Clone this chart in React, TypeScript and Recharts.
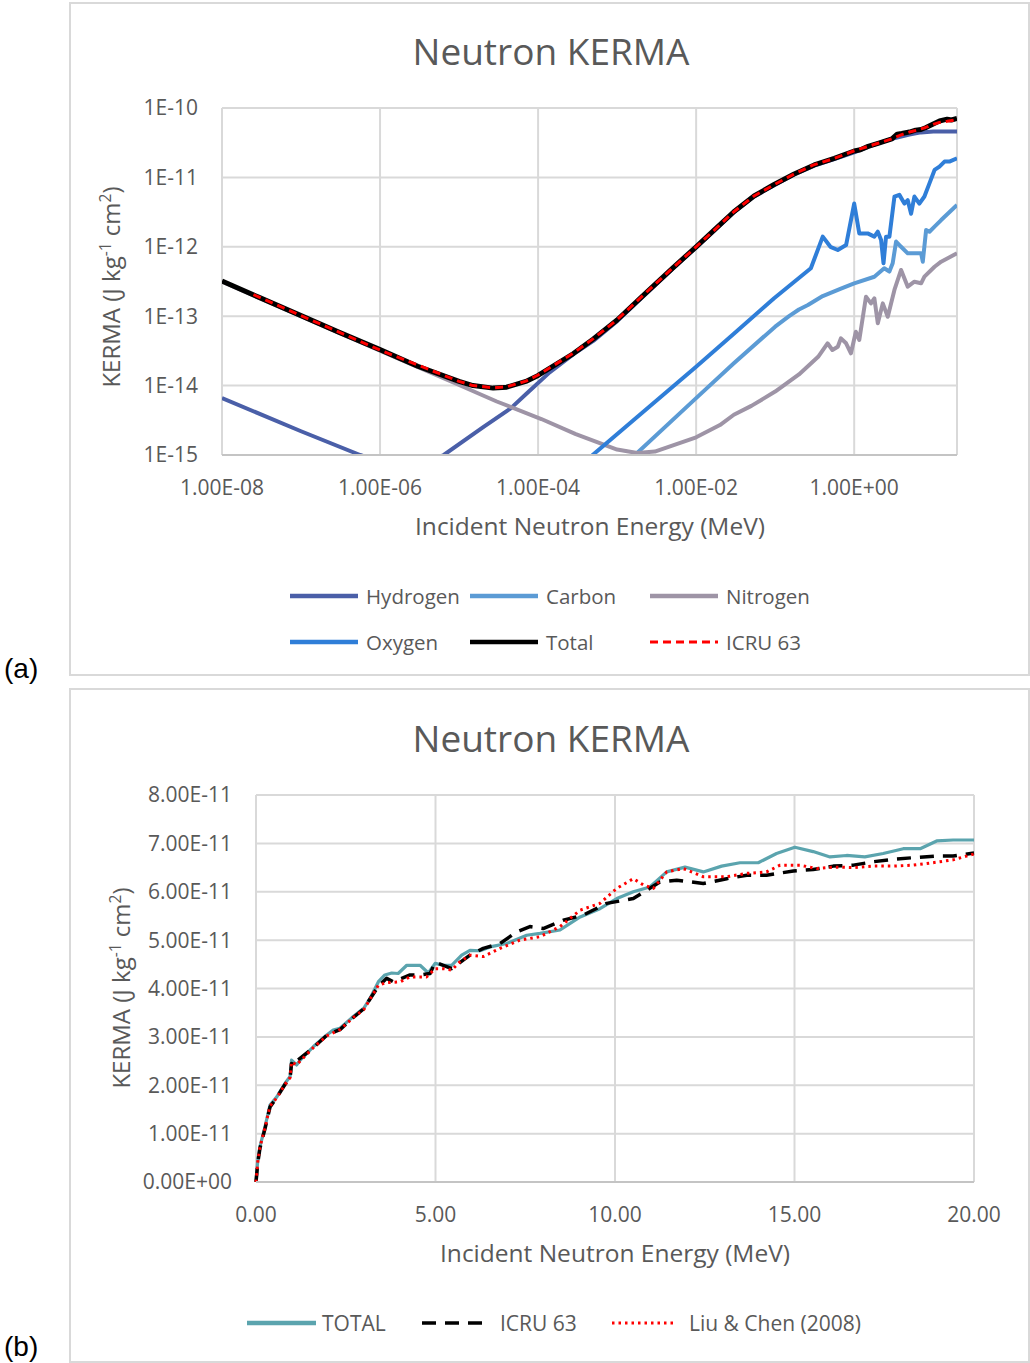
import React from 'react';
import { LineChart, Line, XAxis, YAxis, CartesianGrid } from 'recharts';

const FONT = '"Open Sans", "Noto Sans", sans-serif';
const TEXT = '#595959';
const GRID = '#d9d9d9';

// ---------- Chart (a): log-log ----------
const chartTitle = 'Neutron KERMA';
const xAxisTitle = 'Incident Neutron Energy (MeV)';
const xTicksA = [1e-8, 1e-6, 1e-4, 1e-2, 1];
const xTickLabelsA = ['1.00E-08', '1.00E-06', '1.00E-04', '1.00E-02', '1.00E+00'];
const yTicksA = [1e-15, 1e-14, 1e-13, 1e-12, 1e-11, 1e-10];
const yTickLabelsA = ['1E-15', '1E-14', '1E-13', '1E-12', '1E-11', '1E-10'];
const seriesNamesA = ['Hydrogen', 'Carbon', 'Nitrogen', 'Oxygen', 'Total', 'ICRU 63'];

const hydrogenE = [1e-8, 1e-7, 5.6e-7, 1e-6, 2.5e-6, 6.4e-6, 2e-5, 4.5e-5, 7e-5, 1.4e-4, 3e-4, 5e-4, 1e-3, 2e-3, 5e-3, 1e-2, 1.7e-2, 3e-2, 5.4e-2, 0.097, 0.174, 0.312, 0.56, 1, 1.5, 2, 3, 5, 7, 10, 20];
const hydrogenK = [6.6e-15, 2.2e-15, 1e-15, 8e-16, 6.5e-16, 1e-15, 2.5e-15, 4.7e-15, 7.5e-15, 1.55e-14, 3.0e-14, 4.4e-14, 8.5e-14, 1.8e-13, 4.8e-13, 9.8e-13, 1.72e-12, 3.15e-12, 5.3e-12, 7.7e-12, 1.1e-11, 1.48e-11, 1.84e-11, 2.3e-11, 2.75e-11, 3.1e-11, 3.6e-11, 4.15e-11, 4.45e-11, 4.6e-11, 4.6e-11];

const carbonE = [1.2e-3, 1e-2, 3e-2, 0.1, 0.15, 0.2, 0.26, 0.4, 0.68, 1, 1.8, 2.4, 2.79, 3.07, 3.39, 3.92, 4.76, 7.03, 7.38, 8.13, 8.96, 10.4, 12.6, 20];
const carbonK = [7e-16, 6.6e-15, 2.1e-14, 7.07e-14, 1.0e-13, 1.25e-13, 1.45e-13, 1.95e-13, 2.5e-13, 2.98e-13, 3.7e-13, 4.9e-13, 4.4e-13, 5.8e-13, 1.19e-12, 1.0e-12, 8.05e-13, 8.05e-13, 6.1e-13, 1.75e-12, 1.65e-12, 1.95e-12, 2.43e-12, 4.0e-12];

const nitrogenE = [1e-8, 1e-7, 1e-6, 1e-5, 3e-5, 1.1e-4, 3e-4, 1e-3, 1.8e-3, 3e-3, 1e-2, 2e-2, 3e-2, 5e-2, 0.1, 0.2, 0.35, 0.46, 0.53, 0.62, 0.68, 0.79, 0.91, 1.05, 1.16, 1.41, 1.63, 1.8, 1.99, 2.3, 2.66, 3.23, 3.92, 4.76, 5.78, 7.03, 7.74, 10.4, 12.6, 20];
const nitrogenK = [3.15e-13, 1.0e-13, 3.2e-14, 1.02e-14, 5.9e-15, 3.3e-15, 2.0e-15, 1.2e-15, 1.07e-15, 1.12e-15, 1.8e-15, 2.7e-15, 3.8e-15, 5.1e-15, 8.2e-15, 1.45e-14, 2.6e-14, 4.07e-14, 3.26e-14, 3.63e-14, 4.8e-14, 4.07e-14, 2.92e-14, 5.98e-14, 4.54e-14, 1.91e-13, 1.53e-13, 1.81e-13, 7.9e-14, 1.53e-13, 9.8e-14, 2.39e-13, 4.64e-13, 2.66e-13, 3.14e-13, 2.98e-13, 3.71e-13, 5.16e-13, 6.1e-13, 8.05e-13];

const oxygenE = [3.5e-4, 4.9e-4, 1e-2, 3e-2, 0.097, 0.283, 0.4, 0.5, 0.62, 0.79, 1.0, 1.16, 1.48, 1.8, 1.99, 2.19, 2.35, 2.53, 2.79, 3.23, 3.73, 4.32, 4.76, 5.25, 5.78, 6.68, 7.74, 8.96, 10.4, 12.0, 13.9, 16.0, 20];
const oxygenK = [7e-16, 1e-15, 1.87e-14, 5.6e-14, 1.81e-13, 4.9e-13, 1.4e-12, 1.0e-12, 9.0e-13, 1.06e-12, 4.2e-12, 1.56e-12, 1.56e-12, 1.4e-12, 1.65e-12, 1.25e-12, 5.8e-13, 1.4e-12, 1.4e-12, 5.27e-12, 5.6e-12, 4.2e-12, 4.7e-12, 3.0e-12, 5.3e-12, 4.2e-12, 5.3e-12, 8.2e-12, 1.28e-11, 1.43e-11, 1.69e-11, 1.69e-11, 1.88e-11];

const totalE = [1e-8, 3e-8, 1e-7, 3e-7, 1e-6, 3e-6, 1e-5, 1.5e-5, 2.7e-5, 4e-5, 7e-5, 1e-4, 2.8e-4, 5e-4, 1e-3, 2e-3, 5e-3, 1e-2, 1.7e-2, 3e-2, 5.4e-2, 0.097, 0.174, 0.312, 0.56, 1, 1.2, 1.5, 2, 3, 3.5, 4, 5, 6, 7, 8, 10, 12, 15, 17, 20];
const totalK = [3.2e-13, 1.85e-13, 1.02e-13, 5.9e-14, 3.3e-14, 1.9e-14, 1.15e-14, 1.0e-14, 9.2e-15, 9.5e-15, 1.15e-14, 1.4e-14, 2.9e-14, 4.7e-14, 8.8e-14, 1.85e-13, 4.9e-13, 1.0e-12, 1.75e-12, 3.2e-12, 5.4e-12, 7.9e-12, 1.12e-11, 1.51e-11, 1.88e-11, 2.4e-11, 2.5e-11, 2.8e-11, 3.1e-11, 3.6e-11, 4.2e-11, 4.3e-11, 4.5e-11, 4.8e-11, 4.9e-11, 5.2e-11, 5.9e-11, 6.5e-11, 6.9e-11, 6.72e-11, 7.07e-11];

const icruAE = [2.5e-8, 1e-7, 1e-6, 1e-5, 1.5e-5, 2.7e-5, 4e-5, 7e-5, 1e-4, 2.8e-4, 5e-4, 1e-3, 2e-3, 5e-3, 1e-2, 1.7e-2, 3e-2, 5.4e-2, 0.1, 0.174, 0.3, 0.56, 1, 2, 3, 4, 5, 6, 8, 10, 12, 15, 20];
const icruAK = [2.05e-13, 1.02e-13, 3.25e-14, 1.15e-14, 1.0e-14, 9.3e-15, 9.6e-15, 1.16e-14, 1.42e-14, 2.95e-14, 4.75e-14, 8.9e-14, 1.87e-13, 4.9e-13, 1.0e-12, 1.74e-12, 3.2e-12, 5.4e-12, 8.0e-12, 1.12e-11, 1.5e-11, 1.88e-11, 2.42e-11, 3.1e-11, 3.6e-11, 4.14e-11, 4.5e-11, 4.75e-11, 5.24e-11, 5.8e-11, 6.2e-11, 6.43e-11, 6.8e-11];

// ---------- Chart (b): linear ----------
const xTicksB = [0, 5, 10, 15, 20];
const xTickLabelsB = ['0.00', '5.00', '10.00', '15.00', '20.00'];
const yTicksB = [0, 1e-11, 2e-11, 3e-11, 4e-11, 5e-11, 6e-11, 7e-11, 8e-11];
const yTickLabelsB = ['0.00E+00', '1.00E-11', '2.00E-11', '3.00E-11', '4.00E-11', '5.00E-11', '6.00E-11', '7.00E-11', '8.00E-11'];
const seriesNamesB = ['TOTAL', 'ICRU 63', 'Liu & Chen (2008)'];

const totalBE = [0.0, 0.05, 0.11, 0.25, 0.39, 0.58, 0.81, 0.95, 0.99, 1.13, 1.23, 1.6, 1.97, 2.15, 2.34, 2.71, 3.0, 3.18, 3.41, 3.59, 3.78, 3.96, 4.2, 4.57, 4.8, 4.99, 5.22, 5.45, 5.73, 5.96, 6.24, 6.52, 6.98, 7.54, 7.91, 8.47, 9.03, 9.58, 10.05, 10.51, 10.97, 11.44, 11.95, 12.46, 12.97, 13.48, 13.99, 14.5, 15.01, 15.52, 15.99, 16.45, 16.96, 17.47, 18.03, 18.5, 18.96, 19.42, 20.0];
const totalBK = [0, 0.45e-11, 0.73e-11, 1.14e-11, 1.59e-11, 1.76e-11, 2.04e-11, 2.18e-11, 2.52e-11, 2.42e-11, 2.52e-11, 2.8e-11, 3.04e-11, 3.14e-11, 3.18e-11, 3.42e-11, 3.59e-11, 3.8e-11, 4.14e-11, 4.28e-11, 4.32e-11, 4.31e-11, 4.48e-11, 4.48e-11, 4.32e-11, 4.52e-11, 4.48e-11, 4.48e-11, 4.69e-11, 4.79e-11, 4.78e-11, 4.86e-11, 4.93e-11, 5.1e-11, 5.14e-11, 5.21e-11, 5.48e-11, 5.65e-11, 5.86e-11, 6.0e-11, 6.1e-11, 6.41e-11, 6.51e-11, 6.41e-11, 6.53e-11, 6.6e-11, 6.6e-11, 6.79e-11, 6.92e-11, 6.83e-11, 6.72e-11, 6.75e-11, 6.72e-11, 6.79e-11, 6.89e-11, 6.89e-11, 7.05e-11, 7.07e-11, 7.07e-11];

const icruBE = [0.0, 0.05, 0.11, 0.25, 0.39, 0.58, 0.81, 0.95, 0.99, 1.1, 1.13, 1.6, 2.0, 2.34, 2.71, 3.0, 3.41, 3.64, 3.82, 4.06, 4.29, 4.57, 4.85, 4.99, 5.22, 5.45, 5.78, 5.96, 6.33, 6.8, 7.26, 7.63, 8.0, 8.56, 9.12, 9.77, 10.51, 10.97, 11.25, 11.72, 12.46, 13.11, 13.67, 14.22, 14.97, 15.52, 16.08, 16.64, 17.19, 17.75, 18.4, 18.96, 19.42, 20.0];
const icruBK = [0, 0.4e-11, 0.7e-11, 1.1e-11, 1.55e-11, 1.75e-11, 2.02e-11, 2.15e-11, 2.45e-11, 2.4e-11, 2.5e-11, 2.78e-11, 3.05e-11, 3.15e-11, 3.4e-11, 3.58e-11, 4.05e-11, 4.21e-11, 4.14e-11, 4.21e-11, 4.28e-11, 4.28e-11, 4.31e-11, 4.54e-11, 4.48e-11, 4.41e-11, 4.59e-11, 4.69e-11, 4.83e-11, 4.93e-11, 5.17e-11, 5.28e-11, 5.24e-11, 5.41e-11, 5.52e-11, 5.76e-11, 5.86e-11, 6.07e-11, 6.2e-11, 6.24e-11, 6.17e-11, 6.27e-11, 6.34e-11, 6.34e-11, 6.43e-11, 6.46e-11, 6.53e-11, 6.55e-11, 6.62e-11, 6.67e-11, 6.71e-11, 6.74e-11, 6.74e-11, 6.8e-11];

const liuE = [0.0, 0.05, 0.11, 0.25, 0.39, 0.58, 0.81, 0.95, 0.99, 1.13, 1.23, 1.6, 1.97, 2.34, 2.71, 3.0, 3.41, 3.64, 4.02, 4.29, 4.75, 4.99, 5.22, 5.45, 5.68, 5.96, 6.33, 6.8, 7.35, 7.91, 8.47, 9.03, 9.58, 10.05, 10.51, 10.79, 11.07, 11.44, 11.9, 12.46, 13.11, 13.67, 14.22, 14.6, 15.15, 15.62, 16.08, 16.64, 17.19, 17.75, 18.31, 18.86, 19.42, 20.0];
const liuK = [0, 0.42e-11, 0.72e-11, 1.12e-11, 1.57e-11, 1.74e-11, 2.02e-11, 2.16e-11, 2.48e-11, 2.42e-11, 2.5e-11, 2.78e-11, 3.02e-11, 3.15e-11, 3.4e-11, 3.56e-11, 4.07e-11, 4.12e-11, 4.14e-11, 4.24e-11, 4.24e-11, 4.41e-11, 4.41e-11, 4.38e-11, 4.55e-11, 4.69e-11, 4.66e-11, 4.83e-11, 5.0e-11, 5.07e-11, 5.28e-11, 5.62e-11, 5.76e-11, 6.07e-11, 6.27e-11, 6.14e-11, 6.07e-11, 6.41e-11, 6.48e-11, 6.31e-11, 6.31e-11, 6.38e-11, 6.41e-11, 6.55e-11, 6.55e-11, 6.48e-11, 6.51e-11, 6.5e-11, 6.53e-11, 6.53e-11, 6.55e-11, 6.6e-11, 6.66e-11, 6.78e-11];

const pts = (e: number[], k: number[]) => e.map((x, i) => ({ e: x, k: k[i] }));

const dataA = [
  pts(hydrogenE, hydrogenK),
  pts(carbonE, carbonK),
  pts(nitrogenE, nitrogenK),
  pts(oxygenE, oxygenK),
  pts(totalE, totalK),
  pts(icruAE, icruAK),
];
const dataB = [pts(totalBE, totalBK), pts(icruBE, icruBK), pts(liuE, liuK)];

type SeriesStyle = { color: string; width: number; dash?: string };
const stylesA: SeriesStyle[] = [
  { color: '#4a5fa8', width: 4 },
  { color: '#5b9bd5', width: 4 },
  { color: '#9e94a6', width: 4 },
  { color: '#2f7ed8', width: 4 },
  { color: '#000000', width: 5 },
  { color: '#ff0000', width: 3, dash: '8 5' },
];
const stylesB: SeriesStyle[] = [
  { color: '#5ba4ae', width: 3.2 },
  { color: '#000000', width: 3.5, dash: '14 9' },
  { color: '#ff0000', width: 3, dash: '2.5 4' },
];

const labelOf = (ticks: number[], labels: string[]) => (v: number) => {
  const i = ticks.findIndex((t) => Math.abs(t - v) <= Math.abs(t) * 1e-6 + 1e-30);
  return i >= 0 ? labels[i] : '';
};

const tickStyle = { fill: TEXT, fontSize: 21, fontFamily: FONT };

function Swatch({ s, w }: { s: SeriesStyle; w: number }) {
  return (
    <svg width={w} height={10} style={{ display: 'block' }}>
      <line x1={0} y1={5} x2={w} y2={5} stroke={s.color} strokeWidth={s.dash ? s.width : 4.5} strokeDasharray={s.dash} strokeLinecap={s.dash ? 'butt' : 'round'} />
    </svg>
  );
}

function LegendEntry({ x, y, w, tx, name, s, fontSize }: { x: number; y: number; w: number; tx: number; name: string; s: SeriesStyle; fontSize: number }) {
  return (
    <>
      <div style={{ position: 'absolute', left: x, top: y - 5 }}>
        <Swatch s={s} w={w} />
      </div>
      <div style={{ position: 'absolute', left: tx, top: y, transform: 'translateY(-50%)', fontSize, lineHeight: 1, color: TEXT, whiteSpace: 'nowrap', fontFamily: FONT }}>{name}</div>
    </>
  );
}

function CenterText({ x, y, size, children, rotate }: { x: number; y: number; size: number; children: React.ReactNode; rotate?: boolean }) {
  return (
    <div
      style={{
        position: 'absolute',
        left: x,
        top: y,
        transform: `translate(-50%, -50%)${rotate ? ' rotate(-90deg)' : ''}`,
        fontSize: size,
        lineHeight: 1,
        color: TEXT,
        whiteSpace: 'nowrap',
        fontFamily: FONT,
      }}
    >
      {children}
    </div>
  );
}

const supStyle: React.CSSProperties = { fontSize: '0.65em', verticalAlign: 'super', lineHeight: 0 };
const YTitle = () => (
  <span>
    KERMA (J kg<sup style={supStyle}>-1</sup> cm<sup style={supStyle}>2</sup>)
  </span>
);

function ChartA() {
  return (
    <LineChart width={1030} height={680} margin={{ top: 108, right: 73, left: 0, bottom: 0 }}>
      <CartesianGrid stroke={GRID} strokeWidth={2} />
      <XAxis
        type="number"
        dataKey="e"
        scale="log"
        domain={[1e-8, 20]}
        allowDataOverflow
        ticks={xTicksA}
        interval={0}
        tickFormatter={labelOf(xTicksA, xTickLabelsA)}
        tickLine={false}
        tickSize={0}
        tickMargin={25}
        height={225}
        axisLine={{ stroke: '#c4c4c4', strokeWidth: 2 }}
        tick={tickStyle}
      />
      <YAxis
        type="number"
        dataKey="k"
        scale="log"
        domain={[1e-15, 1e-10]}
        allowDataOverflow
        ticks={yTicksA}
        interval={0}
        tickFormatter={labelOf(yTicksA, yTickLabelsA)}
        tickLine={false}
        tickSize={0}
        tickMargin={24}
        width={222}
        axisLine={false}
        tick={tickStyle}
      />
      {dataA.map((d, i) => (
        <Line
          key={seriesNamesA[i]}
          data={d}
          dataKey="k"
          name={seriesNamesA[i]}
          type="linear"
          stroke={stylesA[i].color}
          strokeWidth={stylesA[i].width}
          strokeDasharray={stylesA[i].dash}
          strokeLinejoin="round"
          dot={false}
          activeDot={false}
          isAnimationActive={false}
        />
      ))}
    </LineChart>
  );
}

function ChartB() {
  return (
    <LineChart width={1030} height={675} margin={{ top: 107, right: 56, left: 0, bottom: 0 }}>
      <CartesianGrid stroke={GRID} strokeWidth={2} />
      <XAxis
        type="number"
        dataKey="e"
        domain={[0, 20]}
        ticks={xTicksB}
        interval={0}
        tickFormatter={labelOf(xTicksB, xTickLabelsB)}
        tickLine={false}
        tickSize={0}
        tickMargin={25}
        height={181}
        axisLine={{ stroke: '#c4c4c4', strokeWidth: 2 }}
        tick={tickStyle}
      />
      <YAxis
        type="number"
        dataKey="k"
        domain={[0, 8e-11]}
        ticks={yTicksB}
        interval={0}
        tickFormatter={labelOf(yTicksB, yTickLabelsB)}
        tickLine={false}
        tickSize={0}
        tickMargin={24}
        width={256}
        axisLine={false}
        tick={tickStyle}
      />
      {dataB.map((d, i) => (
        <Line
          key={seriesNamesB[i]}
          data={d}
          dataKey="k"
          name={seriesNamesB[i]}
          type="linear"
          stroke={stylesB[i].color}
          strokeWidth={stylesB[i].width}
          strokeDasharray={stylesB[i].dash}
          strokeLinejoin="round"
          dot={false}
          activeDot={false}
          isAnimationActive={false}
        />
      ))}
    </LineChart>
  );
}

export default function App() {
  const legA = [
    { x: 290, y: 596 }, { x: 470, y: 596 }, { x: 650, y: 596 },
    { x: 290, y: 642 }, { x: 470, y: 642 }, { x: 650, y: 642 },
  ];
  const legB = [
    { x: 247, w: 69, tx: 322 },
    { x: 422, w: 68, tx: 500 },
    { x: 612, w: 65, tx: 689 },
  ];
  return (
    <div style={{ position: 'absolute', left: 0, top: 0, width: 1030, height: 1363, overflow: 'hidden', background: '#ffffff', fontFamily: FONT }}>
      {/* frames */}
      <div style={{ position: 'absolute', left: 69, top: 2, width: 961, height: 674, border: `2px solid ${GRID}`, boxSizing: 'border-box' }} />
      <div style={{ position: 'absolute', left: 69, top: 688, width: 961, height: 675, border: `2px solid ${GRID}`, boxSizing: 'border-box' }} />

      {/* panel labels */}
      <div style={{ position: 'absolute', left: 4, top: 655, fontFamily: '"Liberation Sans", Arial, sans-serif', fontSize: 28, lineHeight: 1, color: '#000' }}>(a)</div>
      <div style={{ position: 'absolute', left: 4, top: 1333, fontFamily: '"Liberation Sans", Arial, sans-serif', fontSize: 28, lineHeight: 1, color: '#000' }}>(b)</div>

      {/* chart a */}
      <div style={{ position: 'absolute', left: 0, top: 0 }}>
        <ChartA />
      </div>
      <CenterText x={551} y={50} size={37}>{chartTitle}</CenterText>
      <CenterText x={590} y={526} size={24.5}>{xAxisTitle}</CenterText>
      <CenterText x={111} y={287} size={24} rotate>
        <YTitle />
      </CenterText>
      {legA.map((p, i) => (
        <LegendEntry key={seriesNamesA[i]} x={p.x} y={p.y} w={68} tx={p.x + 76} name={seriesNamesA[i]} s={stylesA[i]} fontSize={20.5} />
      ))}

      {/* chart b */}
      <div style={{ position: 'absolute', left: 0, top: 688 }}>
        <ChartB />
      </div>
      <CenterText x={551} y={737} size={37}>{chartTitle}</CenterText>
      <CenterText x={615} y={1253} size={24.5}>{xAxisTitle}</CenterText>
      <CenterText x={121} y={988} size={24} rotate>
        <YTitle />
      </CenterText>
      {legB.map((p, i) => (
        <LegendEntry key={seriesNamesB[i]} x={p.x} y={1323} w={p.w} tx={p.tx} name={seriesNamesB[i]} s={stylesB[i]} fontSize={21} />
      ))}
    </div>
  );
}
